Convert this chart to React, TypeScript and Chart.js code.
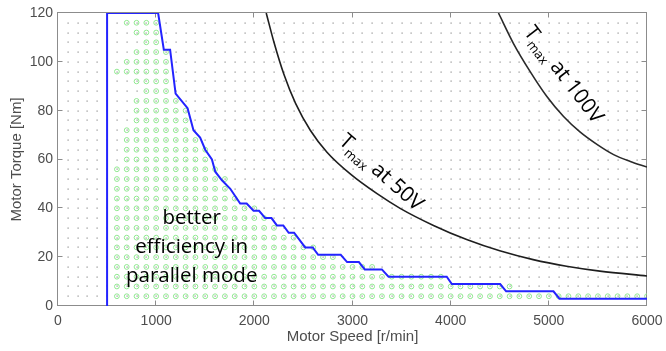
import React, { useEffect, useRef } from 'react';
import { Chart, registerables } from 'chart.js';

Chart.register(...registerables);

// ---- axis ticks ----
const speedTicks = [0, 1000, 2000, 3000, 4000, 5000, 6000];
const torqueTicks = [0, 20, 40, 60, 80, 100, 120];
const speedGridStep = 100;
const torqueGridStep = 4;

// ---- parallel-mode boundary (blue) ----
const boundarySpeed = [500, 500, 1020, 1078, 1142, 1198, 1320, 1380, 1448, 1500, 1568, 1602, 1670, 1755, 1856, 1922, 1992, 2048, 2111, 2175, 2230, 2295, 2350, 2405, 2518, 2595, 2650, 2880, 2945, 3065, 3125, 3299, 3367, 3960, 4012, 4504, 4565, 5047, 5108, 6000];
const boundaryTorque = [0, 120, 120, 105, 105, 87, 81, 72, 69, 64, 60, 55, 51.5, 48, 42, 42, 39, 39, 36, 36, 33, 33, 30, 30, 24, 24, 21, 21, 18, 18, 15, 15, 12, 12, 9, 9, 6, 6, 3, 3];

// ---- Tmax at 50V ----
const tmax50Speed = [2121, 2200, 2300, 2420, 2570, 2740, 2980, 3250, 3485, 3825, 4163, 4500, 4840, 5180, 5520, 6000];
const tmax50Torque = [120, 108, 95, 83, 72, 63, 54, 46, 40, 33, 27.2, 22.6, 19, 16.3, 14.3, 12.3];

// ---- Tmax at 100V ----
const tmax100Speed = [4487, 4640, 4810, 4980, 5150, 5320, 5490, 5660, 5830, 6000];
const tmax100Torque = [120, 107.5, 96, 85.8, 77.6, 71.2, 66.2, 62, 59.2, 56.9];

// ---- region of better efficiency (green markers), one row per torque level ----
const regionTorque = [116, 112, 108, 104, 100, 96, 92, 88, 84, 80, 76, 72, 68, 64, 60, 56, 52, 48, 44, 40, 36, 32, 28, 24, 20, 16, 12, 8, 4];
const regionFrom = [700, 800, 900, 800, 700, 600, 800, 900, 800, 800, 800, 700, 700, 700, 700, 600, 600, 600, 600, 600, 600, 600, 600, 600, 600, 600, 600, 600, 600];
const regionTo = [1000, 1000, 1000, 1100, 1100, 1100, 1100, 1100, 1200, 1300, 1300, 1300, 1400, 1500, 1500, 1600, 1700, 1700, 1800, 2000, 2100, 2200, 2400, 2600, 2800, 3200, 3900, 4600, 6000];

// ---- annotations ----
const noteLines = ['better', 'efficiency in', 'parallel mode'];
const noteSpeed = 1362;
const noteTorque = 21.8;
const label50 = { rest: ' at 50V', speed: 3300, torque: 55.0, angle: 41.5 };
const label100 = { rest: ' at 100V', speed: 5160, torque: 95.0, angle: 52.5 };

const AXIS_FONT = '"Liberation Sans", Arial, sans-serif';
const NOTE_FONT = '"Open Sans", sans-serif';

function toPoints(xs: number[], ys: number[]) {
  return xs.map((x, i) => ({ x, y: ys[i] }));
}

function regionPoints() {
  const pts: { x: number; y: number }[] = [];
  regionTorque.forEach((t, i) => {
    for (let s = regionFrom[i]; s <= regionTo[i]; s += speedGridStep) pts.push({ x: s, y: t });
  });
  return pts;
}

const overlayPlugin = {
  id: 'overlay',
  beforeDatasetsDraw(chart: any) {
    const { ctx, chartArea: a, scales } = chart;
    const xs = scales.x;
    const ys = scales.y;
    ctx.save();
    // dotted minor grid (dots at intersections)
    ctx.fillStyle = '#8e8e8e';
    for (let s = speedGridStep; s < 6000; s += speedGridStep) {
      for (let t = torqueGridStep; t < 120; t += torqueGridStep) {
        const px = Math.round(xs.getPixelForValue(s));
        const py = Math.round(ys.getPixelForValue(t));
        ctx.fillRect(px - 0.5, py - 0.5, 1.2, 1.2);
      }
    }
    // frame
    const l = Math.round(a.left) - 0.5;
    const r = Math.round(a.right) - 0.5;
    const tp = Math.round(a.top) - 0.5;
    const b = Math.round(a.bottom) - 0.5;
    ctx.strokeStyle = '#8c8c8c';
    ctx.lineWidth = 1;
    ctx.strokeRect(l, tp, r - l, b - tp);
    // inward major ticks
    ctx.beginPath();
    speedTicks.forEach((s) => {
      const px = Math.round(xs.getPixelForValue(s)) - 0.5;
      ctx.moveTo(px, b); ctx.lineTo(px, b - 5);
      ctx.moveTo(px, tp); ctx.lineTo(px, tp + 5);
    });
    torqueTicks.forEach((t) => {
      const py = Math.round(ys.getPixelForValue(t)) - 0.5;
      ctx.moveTo(l, py); ctx.lineTo(l + 5, py);
      ctx.moveTo(r, py); ctx.lineTo(r - 5, py);
    });
    ctx.stroke();
    ctx.restore();
  },
  afterDatasetsDraw(chart: any) {
    const { ctx, scales } = chart;
    const xs = scales.x;
    const ys = scales.y;
    ctx.save();
    // note text
    ctx.fillStyle = '#000';
    ctx.font = `20.5px ${NOTE_FONT}`;
    ctx.textAlign = 'center';
    ctx.textBaseline = 'alphabetic';
    const cx = xs.getPixelForValue(noteSpeed);
    const cy = ys.getPixelForValue(noteTorque);
    noteLines.forEach((line, i) => ctx.fillText(line, cx, cy + (i - 1) * 29));

    // rotated Tmax labels
    [label50, label100].forEach((lab) => {
      const px = xs.getPixelForValue(lab.speed);
      const py = ys.getPixelForValue(lab.torque);
      ctx.save();
      ctx.translate(px, py);
      ctx.rotate((lab.angle * Math.PI) / 180);
      ctx.textAlign = 'left';
      ctx.textBaseline = 'alphabetic';
      const mainFont = `21px ${NOTE_FONT}`;
      const subFont = `13px ${NOTE_FONT}`;
      ctx.font = mainFont;
      const wT = ctx.measureText('T').width;
      const wRest = ctx.measureText(lab.rest).width;
      ctx.font = subFont;
      const wSub = ctx.measureText('max').width;
      const total = wT + wSub + wRest;
      let x0 = -total / 2;
      ctx.font = mainFont;
      ctx.fillText('T', x0, 7.5);
      x0 += wT;
      ctx.font = subFont;
      ctx.fillText('max', x0, 12.5);
      x0 += wSub;
      ctx.font = mainFont;
      ctx.fillText(lab.rest, x0, 7.5);
      ctx.restore();
    });
    ctx.restore();
  },
};

export default function App() {
  const canvasRef = useRef<HTMLCanvasElement | null>(null);

  useEffect(() => {
    if (!canvasRef.current) return;
    const chart = new Chart(canvasRef.current, {
      type: 'scatter',
      data: {
        datasets: [
          {
            label: 'Parallel mode boundary',
            data: toPoints(boundarySpeed, boundaryTorque),
            showLine: true,
            borderColor: '#2323ff',
            borderWidth: 2,
            pointRadius: 0,
            tension: 0,
            order: 1,
          } as any,
          {
            label: 'Tmax at 50V',
            data: toPoints(tmax50Speed, tmax50Torque),
            showLine: true,
            borderColor: '#1e1e1e',
            borderWidth: 1.6,
            pointRadius: 0,
            cubicInterpolationMode: 'monotone',
            order: 2,
          } as any,
          {
            label: 'Tmax at 100V',
            data: toPoints(tmax100Speed, tmax100Torque),
            showLine: true,
            borderColor: '#2a2a2a',
            borderWidth: 1.6,
            pointRadius: 0,
            cubicInterpolationMode: 'monotone',
            order: 2,
          } as any,
          {
            label: 'Better efficiency in parallel mode',
            data: regionPoints(),
            showLine: false,
            pointRadius: 2.4,
            pointStyle: 'circle',
            pointBorderWidth: 1,
            pointBorderColor: '#8fe88f',
            pointBackgroundColor: 'rgba(0,0,0,0)',
            order: 3,
          } as any,
        ],
      },
      options: {
        responsive: false,
        devicePixelRatio: 1,
        animation: false,
        events: [],
        layout: { padding: { left: 0, top: 13, right: 19, bottom: 0 } },
        plugins: {
          legend: { display: false },
          tooltip: { enabled: false },
          title: { display: false },
        },
        scales: {
          x: {
            type: 'linear',
            min: 0,
            max: 6000,
            afterBuildTicks: (scale: any) => {
              scale.ticks = speedTicks.map((v) => ({ value: v }));
            },
            afterFit: (scale: any) => {
              scale.height = 45;
              scale.paddingLeft = 0;
              scale.paddingRight = 0;
            },
            grid: { display: false, drawTicks: false },
            border: { display: false },
            ticks: {
              autoSkip: false,
              maxRotation: 0,
              padding: 7,
              color: '#4d4d4d',
              font: { family: AXIS_FONT, size: 14 },
              callback: (v: any) => String(v),
            },
            title: {
              display: true,
              text: 'Motor Speed [r/min]',
              color: '#4d4d4d',
              font: { family: AXIS_FONT, size: 15 },
              padding: { top: 0, bottom: 5 },
            },
          },
          y: {
            type: 'linear',
            min: 0,
            max: 120,
            afterBuildTicks: (scale: any) => {
              scale.ticks = torqueTicks.map((v) => ({ value: v }));
            },
            afterFit: (scale: any) => {
              scale.width = 58;
              scale.paddingTop = 0;
              scale.paddingBottom = 0;
            },
            grid: { display: false, drawTicks: false },
            border: { display: false },
            ticks: {
              autoSkip: false,
              padding: 5,
              color: '#4d4d4d',
              font: { family: AXIS_FONT, size: 14 },
              callback: (v: any) => String(v),
            },
            title: {
              display: true,
              text: 'Motor Torque [Nm]',
              color: '#4d4d4d',
              font: { family: AXIS_FONT, size: 15 },
              padding: { top: 8, bottom: 0 },
            },
          },
        },
      } as any,
      plugins: [overlayPlugin],
    });
    return () => chart.destroy();
  }, []);

  return (
    <div style={{ position: 'fixed', left: 0, top: 0, width: 666, height: 351, background: '#fff' }}>
      <canvas ref={canvasRef} width={666} height={351} style={{ display: 'block' }} />
    </div>
  );
}
